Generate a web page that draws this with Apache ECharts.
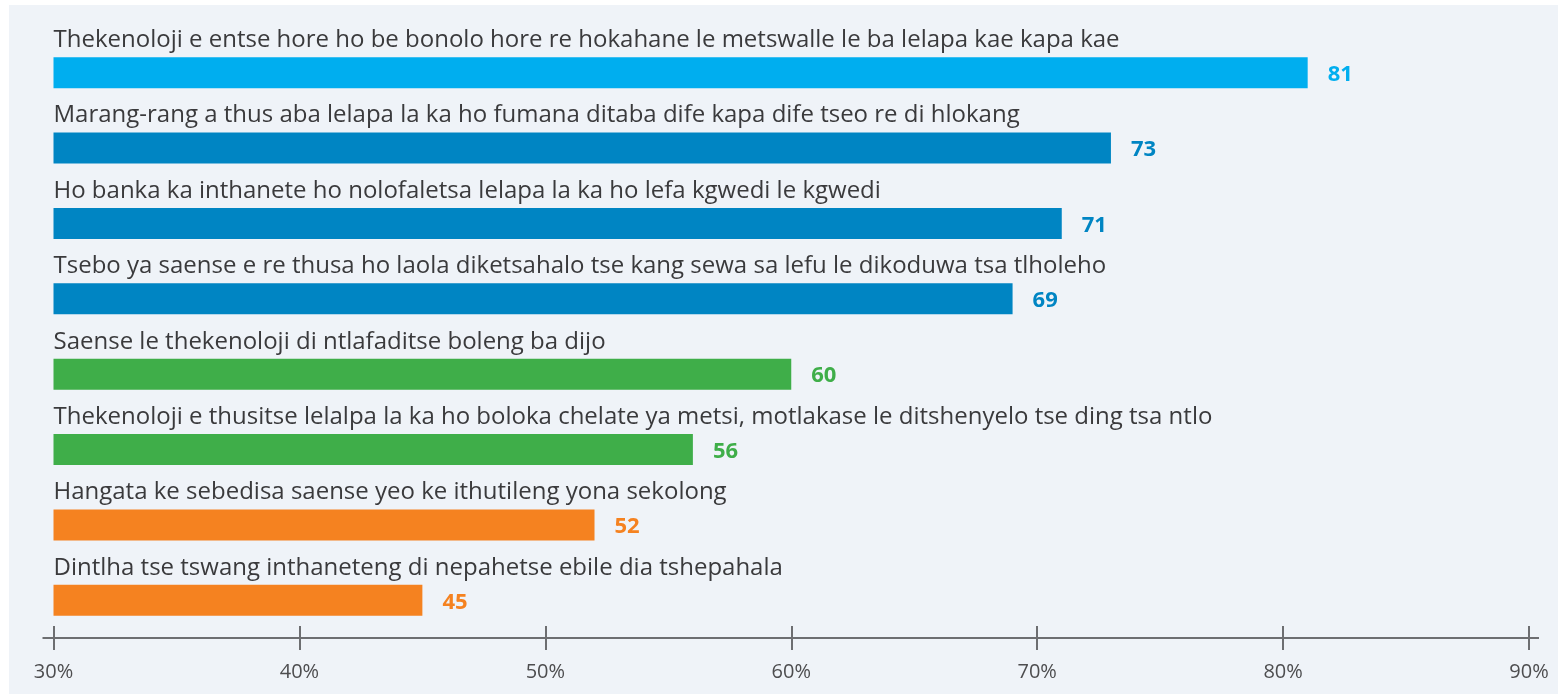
<!DOCTYPE html>
<html>
<head>
<meta charset="utf-8">
<script src="https://cdn.jsdelivr.net/npm/echarts@6/dist/echarts.min.js"></script>
<style>
  html, body { margin: 0; padding: 0; background: #ffffff; }
  #wrap { position: relative; width: 1558px; height: 695px; overflow: hidden; }
  #panel { position: absolute; left: 9px; top: 5px; right: 0; bottom: 1px; background: #eff3f8; }
  #chart { position: absolute; left: 0; top: 0; width: 1558px; height: 695px; }
</style>
</head>
<body>
<div id="wrap">
  <div id="panel"></div>
  <div id="chart"></div>
</div>
<script>
// Survey statements (Sesotho) and share of respondents agreeing, in percent
const categories = [
  'Thekenoloji e entse hore ho be bonolo hore re hokahane le metswalle le ba lelapa kae kapa kae',
  'Marang-rang a thus aba lelapa la ka ho fumana ditaba dife kapa dife tseo re di hlokang',
  'Ho banka ka inthanete ho nolofaletsa lelapa la ka ho lefa kgwedi le kgwedi',
  'Tsebo ya saense e re thusa ho laola diketsahalo tse kang sewa sa lefu le dikoduwa tsa tlholeho',
  'Saense le thekenoloji di ntlafaditse boleng ba dijo',
  'Thekenoloji e thusitse lelalpa la ka ho boloka chelate ya metsi, motlakase le ditshenyelo tse ding tsa ntlo',
  'Hangata ke sebedisa saense yeo ke ithutileng yona sekolong',
  'Dintlha tse tswang inthaneteng di nepahetse ebile dia tshepahala'
];
const values = [81, 73, 71, 69, 60, 56, 52, 45];
// statement group of each bar (indexes into the palette below)
const groupOf = [0, 1, 1, 1, 2, 2, 3, 3];
const axisTicks = [30, 40, 50, 60, 70, 80, 90];

const palette = ['#00aeef', '#0085c3', '#3fae49', '#f58220'];
const FONT = '"Open Sans", "Noto Sans", sans-serif';

const chart = echarts.init(document.getElementById('chart'), null, { renderer: 'canvas' });

const axisMin = axisTicks[0];
const axisMax = axisTicks[axisTicks.length - 1];
const axisStep = axisTicks[1] - axisTicks[0];

const barData = values.map((v, i) => ({
  value: v,
  itemStyle: { color: palette[groupOf[i]] },
  label: { color: palette[groupOf[i]] }
}));

const option = {
  animation: false,
  backgroundColor: 'transparent',
  grid: { left: 53.5, right: 29, top: 35, bottom: 57, containLabel: false },
  xAxis: [
    {
      type: 'value', min: axisMin, max: axisMax, interval: axisStep, position: 'bottom',
      axisLine: { show: false },
      axisTick: { show: true, length: 12, lineStyle: { color: '#6d6e71', width: 2 } },
      axisLabel: {
        margin: 24, color: '#4d4d4f', fontSize: 20, fontFamily: FONT,
        formatter: v => v + '%'
      },
      splitLine: { show: false }
    },
    {
      type: 'value', min: axisMin, max: axisMax, interval: axisStep, position: 'bottom',
      axisLine: { show: false },
      axisTick: { show: true, inside: true, length: 12, lineStyle: { color: '#6d6e71', width: 2 } },
      axisLabel: { show: false },
      splitLine: { show: false }
    }
  ],
  yAxis: {
    type: 'category', data: categories, inverse: true,
    axisLine: { show: false }, axisTick: { show: false }, axisLabel: { show: false },
    splitLine: { show: false }
  },
  series: [
    {
      type: 'bar', name: 'values', xAxisIndex: 0,
      data: barData, barWidth: 31, barGap: '-100%',
      label: {
        show: true, position: 'right', distance: 20, offset: [0, 2],
        fontFamily: FONT, fontWeight: 'bold', fontSize: 22
      }
    },
    {
      type: 'bar', name: 'statements', xAxisIndex: 0, silent: true,
      data: values, barWidth: 31, barGap: '-100%',
      itemStyle: { color: 'rgba(0,0,0,0)' },
      label: {
        show: true, position: [0, -5], align: 'left', verticalAlign: 'bottom',
        fontFamily: FONT, fontSize: 24, color: '#3a3a3c',
        formatter: p => categories[p.dataIndex]
      }
    }
  ]
};

chart.setOption(option);

// Axis baseline, running a little past the first and last tick
const x0 = chart.convertToPixel({ xAxisIndex: 0 }, axisMin);
const x1 = chart.convertToPixel({ xAxisIndex: 0 }, axisMax);
const gridRect = chart.getModel().getComponent('grid').coordinateSystem.getRect();
const yLine = gridRect.y + gridRect.height;
chart.setOption({
  graphic: [{
    type: 'line', z: 5,
    shape: { x1: x0 - 11, y1: yLine, x2: x1 + 10, y2: yLine },
    style: { stroke: '#6d6e71', lineWidth: 2 }
  }]
});
</script>
</body>
</html>
